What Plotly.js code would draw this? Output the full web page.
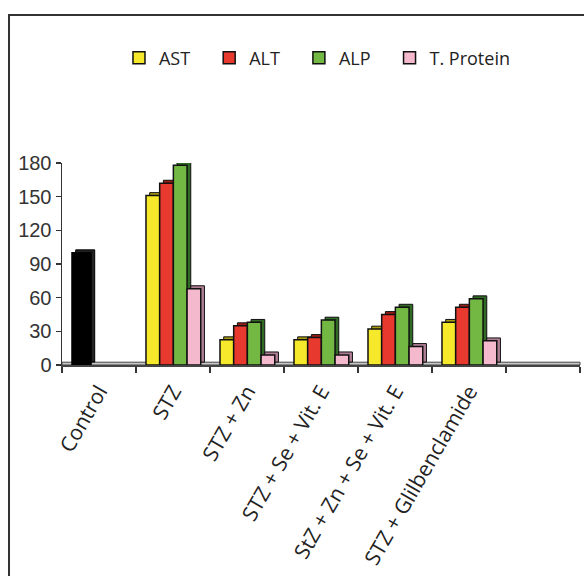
<!DOCTYPE html>
<html>
<head>
<meta charset="utf-8">
<script src="https://cdn.plot.ly/plotly-3.0.1.min.js"></script>
<style>html,body{margin:0;padding:0;background:#fff;}#chart{width:584px;height:576px;}</style>
</head>
<body>
<div id="chart"></div>
<script>
// ---- data ----
var categories = ["Control", "STZ", "STZ + Zn", "STZ + Se + Vit. E", "StZ + Zn + Se + Vit. E", "STZ + Glilbenclamide", " "];
var groups = ["STZ", "STZ + Zn", "STZ + Se + Vit. E", "StZ + Zn + Se + Vit. E", "STZ + Glilbenclamide"];
var controlValue = [100];
var AST = [151, 22.5, 22.5, 32, 38];
var ALT = [162, 35, 24.5, 45, 51.5];
var ALP = [178, 38, 40, 51.5, 59];
var TProtein = [68, 9, 9, 16.5, 21.5];
var seriesNames = ["AST", "ALT", "ALP", "T. Protein"];

// ---- style ----
var frontColors = ["#f6e82a", "#e8392e", "#72b843", "#f5b9cd"];
var sideColors = ["#a89b10", "#9a1c14", "#2f6b25", "#b07f95"];
var legendPad = "\u00a0\u00a0\u00a0";
var barW = 0.185;
var offsets = [-0.365, -0.18, 0.005, 0.19];
var depthX = 0.05, depthY = 2.6;

var seriesVals = [AST, ALT, ALP, TProtein];
var traces = [];

// blank category holder
traces.push({type: "scatter", x: [" "], y: [0], mode: "none", showlegend: false, hoverinfo: "skip"});

// control (3D depth + front)
traces.push({type: "bar", x: ["Control"], y: controlValue, base: depthY, offset: -0.365 + depthX, width: 0.257,
  marker: {color: "#222", line: {color: "#000", width: 1}}, showlegend: false, hoverinfo: "skip"});
traces.push({type: "bar", x: ["Control"], y: controlValue, offset: -0.365, width: 0.257,
  marker: {color: "#000", line: {color: "#000", width: 1.5}}, showlegend: false, hoverinfo: "skip"});

for (var i = 0; i < 4; i++) {
  traces.push({type: "bar", x: groups, y: seriesVals[i], base: depthY, offset: offsets[i] + depthX, width: barW,
    marker: {color: sideColors[i], line: {color: "#111", width: 1}}, showlegend: false, hoverinfo: "skip"});
  traces.push({type: "bar", name: seriesNames[i] + (i < 3 ? legendPad : ""), x: groups, y: seriesVals[i],
    offset: offsets[i], width: barW,
    marker: {color: frontColors[i], line: {color: "#111", width: 1.5}}, hoverinfo: "skip"});
}

var layout = {
  width: 584, height: 576,
  margin: {l: 62, r: 4, t: 163, b: 211},
  paper_bgcolor: "#fff", plot_bgcolor: "#fff",
  barmode: "overlay",
  showlegend: true,
  legend: {orientation: "h", x: 0.11, y: 1.52, xanchor: "left", yanchor: "middle",
    font: {family: "Open Sans, Noto Sans, sans-serif", size: 18, color: "#222"},
    traceorder: "normal", bgcolor: "rgba(0,0,0,0)"},
  xaxis: {type: "category", categoryorder: "array", categoryarray: categories, range: [-0.5, 6.5],
    showline: true, linecolor: "#444", linewidth: 2, ticks: "outside", ticklen: 6, tickcolor: "#333", tickwidth: 1.5,
    tickson: "boundaries", tickangle: -60, ticklabelstandoff: 4,
    showgrid: false, zeroline: false, fixedrange: true,
    tickfont: {family: "Open Sans, Noto Sans, sans-serif", size: 21, color: "#222"}},
  yaxis: {range: [0, 180], dtick: 30, tick0: 0, showline: true, linecolor: "#333", linewidth: 1.5,
    ticks: "outside", ticklen: 5, tickcolor: "#333", tickwidth: 1.5, showgrid: false, zeroline: false, fixedrange: true,
    tickfont: {family: "Liberation Sans, Arial, sans-serif", size: 20, color: "#333"}},
  shapes: [
    {type: "rect", xref: "paper", yref: "y", x0: 0, x1: 1, y0: 0, y1: 2.5, fillcolor: "#c8c8c8",
      line: {color: "#444", width: 1}, layer: "below"},
    {type: "path", xref: "paper", yref: "paper",
      path: "M -0.1023,-1.2 L -0.1023,1.733 L 1.05,1.733", line: {color: "#333", width: 2}}
  ]
};

Plotly.newPlot("chart", traces, layout, {displayModeBar: false, staticPlot: true});
</script>
</body>
</html>
